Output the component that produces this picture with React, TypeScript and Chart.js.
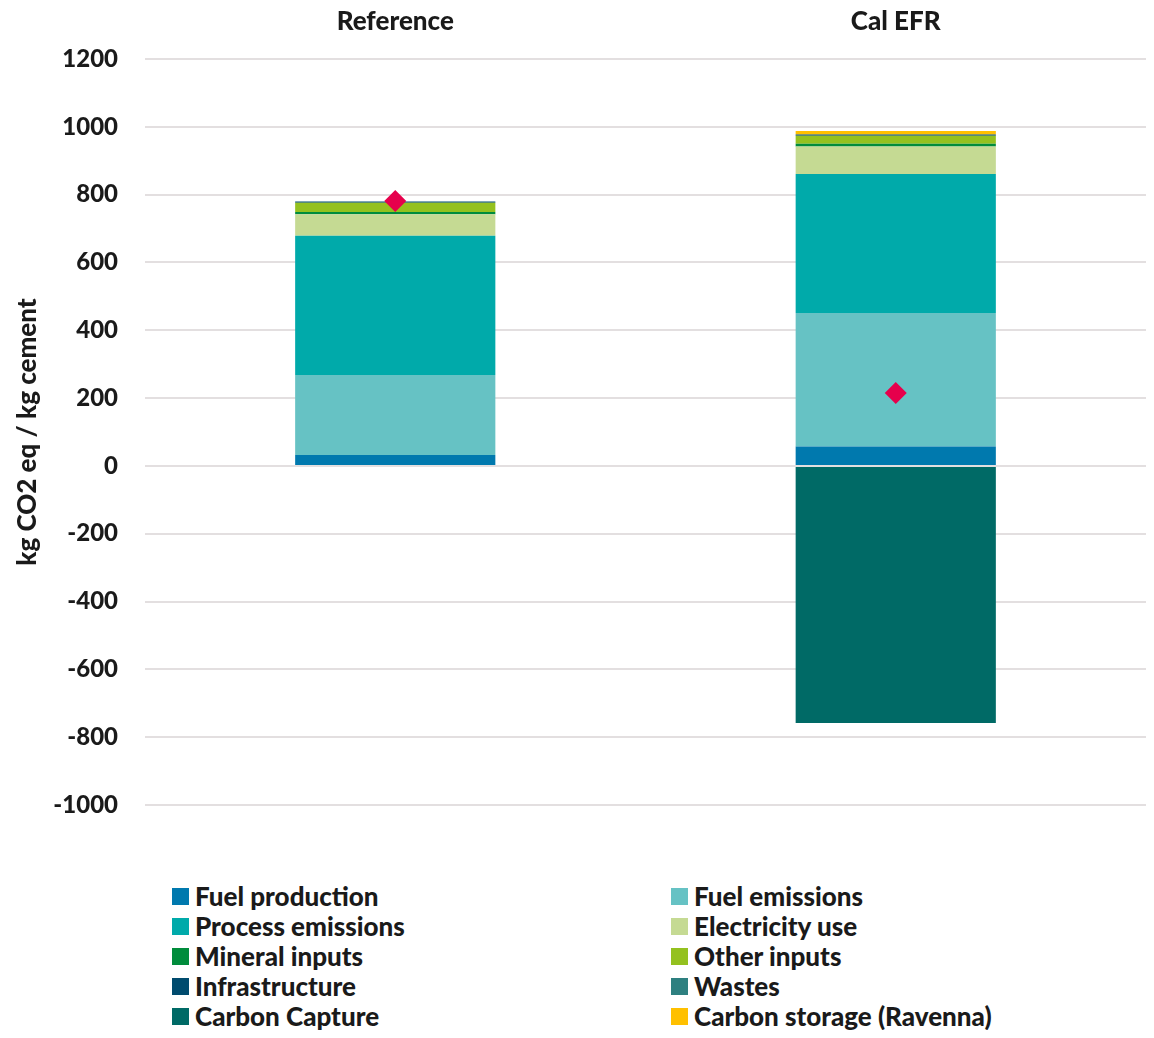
import React, { useEffect, useRef } from "react";
import { Chart, registerables } from "chart.js";

Chart.register(...registerables);

const categories = ["Reference", "Cal EFR"];
const seriesNames = [
  "Fuel production",
  "Fuel emissions",
  "Process emissions",
  "Electricity use",
  "Mineral inputs",
  "Other inputs",
  "Infrastructure",
  "Wastes",
  "Carbon Capture",
  "Carbon storage (Ravenna)",
];
const fuelProduction = [32, 57];
const fuelEmissions = [236, 394];
const processEmissions = [411, 410];
const electricityUse = [63, 81];
const mineralInputs = [7, 8];
const otherInputs = [27, 24];
const infrastructure = [4, 3];
const wastes = [0, 0];
const carbonCapture = [0, -758];
const carbonStorage = [0, 11];
const netTotal = [781, 215];
const yTicks = [-1000, -800, -600, -400, -200, 0, 200, 400, 600, 800, 1000, 1200];

const seriesValues = [
  fuelProduction,
  fuelEmissions,
  processEmissions,
  electricityUse,
  mineralInputs,
  otherInputs,
  infrastructure,
  wastes,
  carbonCapture,
  carbonStorage,
];
const seriesColors = [
  "#0079AE",
  "#66C2C4",
  "#00AAAA",
  "#C5DA93",
  "#008C3C",
  "#94C11F",
  "#004B6E",
  "#2E8080",
  "#006A66",
  "#FFC000",
];
const legendOrder = [0, 1, 2, 3, 4, 5, 6, 7, 8, 9];

const FONT = "Lato, 'Open Sans', sans-serif";
const W = 1138;
const H = 840;

export default function App() {
  const ref = useRef<HTMLCanvasElement | null>(null);
  useEffect(() => {
    if (!ref.current) return;
    const datasets: any[] = seriesNames.map((name, i) => ({
      type: "bar",
      label: name,
      data: seriesValues[i],
      backgroundColor: seriesColors[i],
      borderWidth: 0,
      stack: "s",
      barPercentage: 0.4,
      categoryPercentage: 1,
      order: 2,
    }));
    datasets.push({
      type: "line",
      label: "Net",
      data: netTotal,
      showLine: false,
      pointStyle: "rectRot",
      pointRadius: 11,
      pointHoverRadius: 11,
      pointBackgroundColor: "#E6004C",
      pointBorderColor: "#E6004C",
      pointBorderWidth: 0,
      stack: "net",
      order: 0,
    });
    const chart = new Chart(ref.current, {
      type: "bar",
      data: { labels: categories, datasets },
      options: {
        animation: false,
        responsive: false,
        maintainAspectRatio: false,
        layout: { autoPadding: false, padding: { top: 0, right: 0, left: 0, bottom: 43 } },
        plugins: { legend: { display: false }, tooltip: { enabled: false } },
        scales: {
          x: {
            position: "top",
            stacked: true,
            grid: { display: false, drawTicks: false },
            border: { display: false },
            ticks: {
              color: "#1a1a1a",
              font: { family: FONT, size: 26, weight: 900 },
              padding: 22,
            },
            afterFit: (s: any) => {
              s.height = 51;
              s.paddingLeft = 0;
              s.paddingRight = 0;
            },
          },
          y: {
            stacked: true,
            min: -1000,
            max: 1200,
            afterBuildTicks: (s: any) => {
              s.ticks = yTicks.map((v) => ({ value: v }));
            },
            grid: { color: "#E3DFE0", lineWidth: 2, drawTicks: false },
            border: { display: false },
            ticks: {
              color: "#1a1a1a",
              font: { family: FONT, size: 24, weight: 900 },
              padding: 27,
              callback: (v: any) => String(v),
            },
            title: {
              display: true,
              text: "kg CO2 eq / kg cement",
              color: "#1a1a1a",
              font: { family: FONT, size: 26, weight: 900 },
              padding: { top: 4, bottom: 0 },
            },
            afterFit: (s: any) => {
              s.width = 137;
            },
          },
        },
      },
    });
    return () => chart.destroy();
  }, []);

  return (
    <div style={{ position: "relative", width: W, height: 1022, fontFamily: FONT }}>
      <canvas ref={ref} width={W} height={H} style={{ position: "absolute", left: 0, top: 0, width: W, height: H }} />
      {legendOrder.map((idx, k) => {
        const col = k % 2;
        const row = Math.floor(k / 2);
        return (
          <div
            key={idx}
            style={{
              position: "absolute",
              left: col === 0 ? 164 : 663,
              top: 896 - 8 + row * 30 - 14,
              height: 28,
              display: "flex",
              alignItems: "center",
              whiteSpace: "nowrap",
              lineHeight: "28px",
            }}
          >
            <span
              style={{
                display: "inline-block",
                width: 17,
                height: 17,
                background: seriesColors[idx],
                marginRight: 6,
              }}
            />
            <span style={{ fontSize: 26, fontWeight: 900, color: "#1a1a1a" }}>
              {seriesNames[idx]}
            </span>
          </div>
        );
      })}
    </div>
  );
}
